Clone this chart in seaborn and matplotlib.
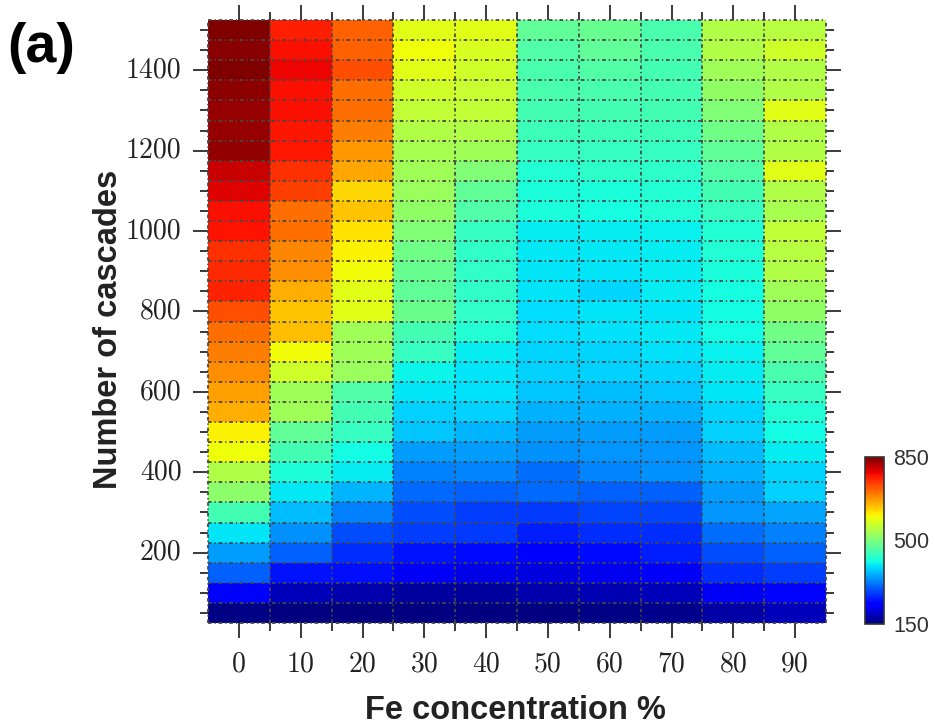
import numpy as np
import pandas as pd
import matplotlib
matplotlib.use("Agg")
import matplotlib.pyplot as plt
import seaborn as sns

# ---------------- data ----------------
fe_conc = [0, 10, 20, 30, 40, 50, 60, 70, 80, 90]
cascades = [1500, 1450, 1400, 1350, 1300, 1250, 1200, 1150, 1100, 1050,
            1000, 950, 900, 850, 800, 750, 700, 650, 600, 550,
            500, 450, 400, 350, 300, 250, 200, 150, 100, 50]

# values per Fe concentration, listed from the top row (1500) to bottom row (50)
fe00 = [850, 844, 848, 840, 836, 836, 838, 804, 791, 776, 772, 751, 755, 760, 728,
        704, 692, 681, 668, 657, 608, 598, 545, 515, 452, 395, 346, 304, 230, 155]
fe10 = [763, 776, 782, 775, 775, 770, 770, 751, 740, 704, 704, 687, 681, 657, 640,
        645, 600, 570, 531, 531, 477, 452, 423, 397, 368, 336, 304, 250, 188, 152]
fe20 = [716, 716, 728, 704, 704, 692, 674, 662, 627, 640, 618, 608, 600, 585, 585,
        531, 531, 525, 463, 452, 440, 410, 400, 363, 325, 290, 270, 248, 179, 150]
fe30 = [585, 598, 585, 570, 558, 545, 538, 531, 525, 518, 504, 490, 483, 477, 485,
        452, 440, 405, 395, 380, 374, 346, 325, 309, 290, 281, 250, 225, 170, 150]
fe40 = [585, 578, 570, 565, 558, 545, 531, 504, 477, 463, 440, 437, 437, 437, 437,
        425, 400, 395, 391, 380, 363, 346, 330, 304, 281, 277, 245, 213, 170, 150]
fe50 = [477, 463, 458, 458, 452, 447, 440, 425, 420, 420, 400, 398, 395, 395, 390,
        390, 385, 380, 374, 358, 346, 336, 314, 309, 277, 259, 230, 208, 179, 150]
fe60 = [483, 477, 463, 458, 452, 447, 440, 432, 420, 415, 400, 398, 395, 385, 395,
        392, 385, 380, 368, 358, 346, 340, 330, 304, 286, 270, 245, 220, 182, 155]
fe70 = [458, 458, 452, 452, 452, 447, 440, 432, 425, 425, 402, 400, 400, 400, 396,
        398, 392, 385, 374, 358, 346, 340, 336, 304, 286, 270, 259, 225, 188, 160]
fe80 = [545, 545, 531, 518, 504, 490, 477, 463, 452, 440, 425, 425, 420, 415, 412,
        412, 402, 400, 396, 385, 380, 368, 358, 346, 340, 314, 290, 270, 225, 172]
fe90 = [550, 570, 545, 545, 585, 545, 545, 585, 545, 538, 558, 550, 545, 531, 518,
        490, 477, 458, 440, 425, 412, 400, 385, 380, 350, 325, 304, 281, 240, 186]

y_major = [200, 400, 600, 800, 1000, 1200, 1400]
cbar_ticks = [150, 500, 850]
vmin, vmax = 150, 850

columns = [fe00, fe10, fe20, fe30, fe40, fe50, fe60, fe70, fe80, fe90]
df = pd.DataFrame({f: col for f, col in zip(fe_conc, columns)}, index=cascades)

# ---------------- figure ----------------
W, H = 935, 726
fig = plt.figure(figsize=(W / 100, H / 100), dpi=100)
ax = fig.add_axes([208 / W, 103 / H, 618 / W, 603 / H])
cax = fig.add_axes([865 / W, 102 / H, 19 / W, 167 / H])

sns.heatmap(df, ax=ax, cbar_ax=cax, cmap="jet", vmin=vmin, vmax=vmax,
            cbar_kws={"ticks": cbar_ticks})

# ticks
ax.set_xticks(np.arange(len(fe_conc)) + 0.5, labels=[str(f) for f in fe_conc])
ax.set_xticks(np.arange(1, len(fe_conc)), minor=True)
ypos = [cascades.index(v) + 0.5 for v in y_major]
ax.set_yticks(ypos, labels=[str(v) for v in y_major])
ax.set_yticks(np.arange(len(cascades)) + 0.5, minor=True)

tick_col = "#2a2a2a"
ax.tick_params(which="both", direction="out", top=True, right=True, bottom=True,
               left=True, labeltop=False, labelright=False, color=tick_col, width=1.3,
               labelsize=20, labelcolor="#222222")
ax.tick_params(which="major", length=11)
ax.tick_params(which="minor", length=6)
ax.tick_params(axis="x", pad=9)
ax.tick_params(axis="y", pad=8)
for lbl in ax.get_xticklabels() + ax.get_yticklabels():
    lbl.set_fontfamily("cmr10")
    lbl.set_rotation(0)
for lbl in ax.get_yticklabels():
    lbl.set_va("center")

# dotted cell grid
grid_kw = dict(color="#484848", lw=1.3, ls=(0, (2.0, 1.6, 0.7, 1.6)), zorder=3, clip_on=False)
for i in range(len(cascades) + 1):
    ax.axhline(i, **grid_kw)
for j in range(len(fe_conc) + 1):
    ax.axvline(j, **grid_kw)

# axis labels
lab_kw = dict(fontsize=23.5, fontweight="bold", family="Liberation Sans", color="#222222")
ax.set_xlabel("Fe concentration %", **lab_kw)
ax.set_ylabel("Number of cascades", **lab_kw)
ax.xaxis.set_label_coords(0.497, -0.1195)
ax.yaxis.set_label_coords(-0.136, 0.4876)

# colorbar styling
cbar = ax.collections[0].colorbar
cbar.ax.tick_params(length=0, labelsize=15.5, pad=6.5, labelcolor="#333333")
for lbl in cbar.ax.get_yticklabels():
    lbl.set_fontfamily("Liberation Sans")
cbar.outline.set_edgecolor("#333333")
cbar.outline.set_linewidth(1.2)

# panel letter
fig.text(7 / W, 1 - 62 / H, "(a)", fontsize=40, fontweight="bold",
         family="Liberation Sans", va="baseline", ha="left", color="black")

fig.savefig("out.png", dpi=100)
